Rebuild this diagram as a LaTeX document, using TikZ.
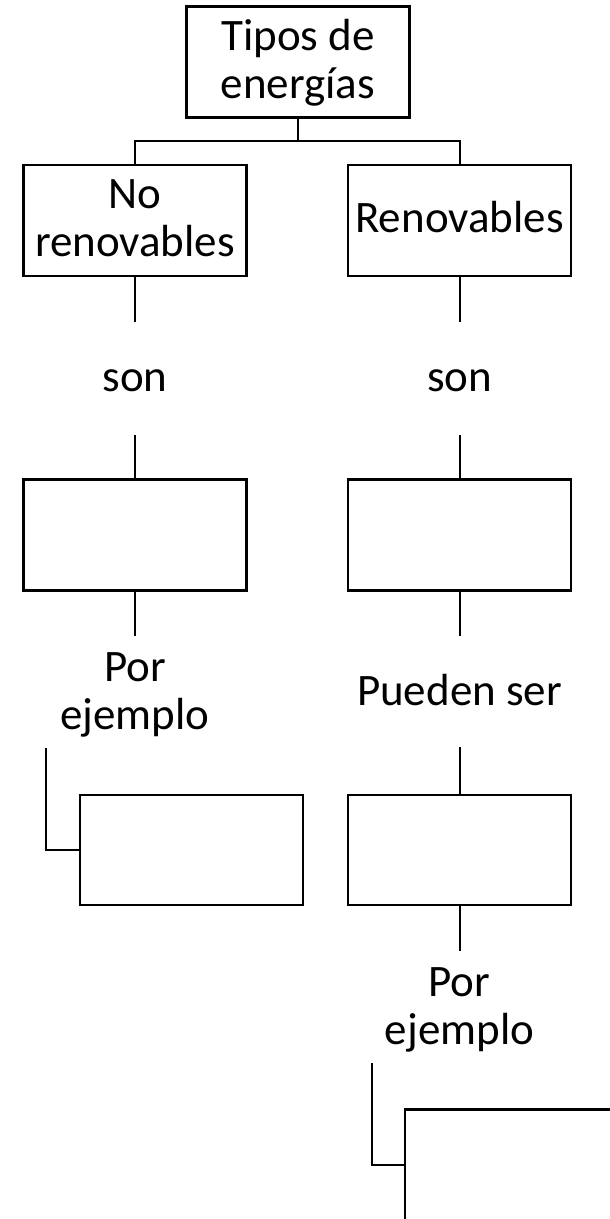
\documentclass[tikz,border=0pt]{standalone}
\usepackage{fontspec}
\setmainfont{Carlito}
\newcommand{\fs}{\fontsize{45}{48}\selectfont}
\newcommand{\ml}[1]{\begin{tabular}[t]{@{}c@{}}#1\end{tabular}}
\newcommand{\tstrut}{\rule{0pt}{39pt}}
\begin{document}
\begin{tikzpicture}[x=1pt,y=-1pt,
  box/.style={draw, line width=2.2pt, minimum width=223pt, minimum height=111pt, inner sep=0pt, font=\fs},
  lbl/.style={inner sep=0pt, anchor=base, font=\fs},
  conn/.style={line width=2pt}]
\useasboundingbox (0,0) rectangle (610,1219);
\clip (0,0) rectangle (610,1219);
% nodes
\node[box] (top) at (298,62) {\ml{\tstrut Tipos de\\energías}};
\node[box] (nr) at (135,220.5) {\ml{\tstrut No\\renovables}};
\node[box] (ren) at (459.5,220.5) {\ml{\tstrut Renovables}};
\node[lbl] (son1) at (135,391.7) {\ml{son}};
\node[lbl] (son2) at (459.5,391.7) {\ml{son}};
\node[box] (b2l) at (135,535) {};
\node[box] (b2r) at (459.5,535) {};
\node[lbl] (pe1) at (135,681.7) {\ml{Por\\ejemplo}};
\node[lbl] (ps) at (459.5,705) {\ml{Pueden ser}};
\node[box, minimum height=110pt] (b3l) at (191.2,850) {};
\node[box, minimum height=110pt] (b3r) at (459.5,850) {};
\node[lbl] (pe2) at (459.5,996) {\ml{Por\\ejemplo}};
\node[box] (b4) at (516.5,1165) {};
\coordinate (j) at (298,141);
\coordinate (c1) at (46,748);
\coordinate (c2) at (371.5,1063);
% connectors
\draw[conn] (top.south) -- (j);
\draw[conn] (nr.north) |- (j) -| (ren.north);
\draw[conn, shorten >=36.4pt] (nr.south) -- (son1.north);
\draw[conn, shorten <=28.2pt] (son1.south) -- (b2l.north);
\draw[conn, shorten >=12.1pt] (b2l.south) -- (pe1.north);
\draw[conn] (c1) |- (b3l.west);
\draw[conn, shorten >=36.4pt] (ren.south) -- (son2.north);
\draw[conn, shorten <=28.2pt] (son2.south) -- (b2r.north);
\draw[conn, shorten >=35.4pt] (b2r.south) -- (ps.north);
\draw[conn, shorten <=27.3pt] (ps.south) -- (b3r.north);
\draw[conn, shorten >=11.4pt] (b3r.south) -- (pe2.north);
\draw[conn] (c2) |- (b4.west);
\end{tikzpicture}
\end{document}
